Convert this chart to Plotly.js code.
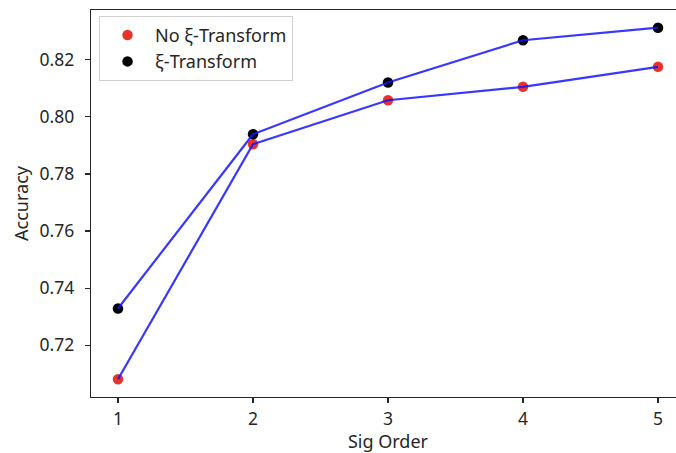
<!DOCTYPE html>
<html>
<head>
<meta charset="utf-8">
<script src="https://cdn.plot.ly/plotly-3.0.1.min.js"></script>
<style>
html,body{margin:0;padding:0;overflow:hidden;background:#fff;}
#chart{width:686px;height:453px;}
</style>
</head>
<body>
<div id="chart"></div>
<script>
const sigOrder = [1, 2, 3, 4, 5];
const noXiAcc = [0.7081, 0.7904, 0.8058, 0.8105, 0.8175];
const xiAcc = [0.7329, 0.7939, 0.8120, 0.8268, 0.8312];
const seriesNames = ['No ξ-Transform', 'ξ-Transform'];
const yTicks = [0.72, 0.74, 0.76, 0.78, 0.80, 0.82];
const xTicks = [1, 2, 3, 4, 5];

const FAM = 'Noto Sans';
const tickFont = {family: FAM, size: 17.5, color: '#262626'};
const labFont = {family: FAM, size: 18, color: '#262626'};

const traces = [
  {x: sigOrder, y: noXiAcc, mode: 'markers', name: seriesNames[0],
   marker: {color: '#e8332a', size: 10.5}},
  {x: sigOrder, y: xiAcc, mode: 'markers', name: seriesNames[1],
   marker: {color: '#000000', size: 10.5}},
  {x: sigOrder, y: noXiAcc, mode: 'lines', showlegend: false, hoverinfo: 'skip',
   line: {color: 'rgba(20,20,255,0.85)', width: 2.2}},
  {x: sigOrder, y: xiAcc, mode: 'lines', showlegend: false, hoverinfo: 'skip',
   line: {color: 'rgba(20,20,255,0.85)', width: 2.2}}
];

const layout = {
  width: 686, height: 453,
  margin: {l: 91, r: 1, t: 10, b: 56},
  paper_bgcolor: '#fff', plot_bgcolor: '#fff',
  font: tickFont,
  showlegend: true,
  legend: {x: 0.0135, y: 0.985, xanchor: 'left', yanchor: 'top',
    bgcolor: 'rgba(255,255,255,0.9)', bordercolor: '#d0d0d0', borderwidth: 1,
    itemwidth: 45,
    font: labFont, tracegroupgap: 0},
  xaxis: {
    range: [0.8, 5.2], tickvals: xTicks, ticktext: xTicks.map(String),
    tickfont: tickFont, ticklabelstandoff: 1,
    showgrid: false, zeroline: false, showline: true, linecolor: '#262626', linewidth: 1.3, mirror: true,
    ticks: 'outside', ticklen: 5, tickcolor: '#262626', tickwidth: 1.2,
    title: {text: 'Sig Order', font: labFont, standoff: 6}
  },
  yaxis: {
    range: [0.7019, 0.8374], tickvals: yTicks, ticktext: yTicks.map(v => v.toFixed(2)),
    tickfont: tickFont, ticklabelstandoff: 7,
    showgrid: false, zeroline: false, showline: true, linecolor: '#262626', linewidth: 1.3, mirror: true,
    ticks: 'outside', ticklen: 5, tickcolor: '#262626', tickwidth: 1.2,
    title: {text: 'Accuracy', font: labFont, standoff: 6}
  }
};

Plotly.newPlot('chart', traces, layout, {displayModeBar: false, staticPlot: true});
</script>
</body>
</html>
